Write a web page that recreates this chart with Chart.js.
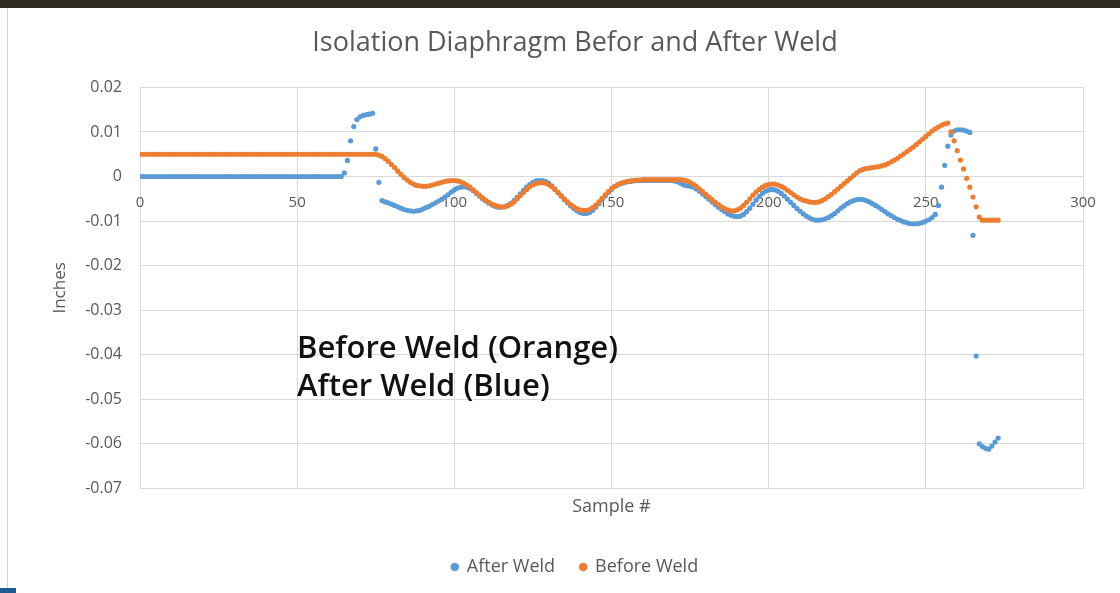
<!DOCTYPE html>
<html>
<head>
<meta charset="utf-8">
<script src="https://cdn.jsdelivr.net/npm/chart.js@4"></script>
<style>
  html, body { margin: 0; padding: 0; background: #fff; }
  body { width: 1120px; height: 593px; position: relative; overflow: hidden; }
  #topBand { position: absolute; left: 0; top: 0; width: 1120px; height: 8px; background: #2e2a24; }
  #leftLine { position: absolute; left: 7px; top: 8px; width: 1px; height: 580px; background: #d0d0d0; }
  #cornerBar { position: absolute; left: 0; top: 588px; width: 16px; height: 5px; background: #1f5b8f; }
  #wrap { position: absolute; left: 0; top: 0; width: 1120px; height: 593px; }
  #note { position: absolute; left: 297px; top: 327px; font-family: "Open Sans", sans-serif; font-weight: 600;
          font-size: 31px; line-height: 38px; color: #111; white-space: nowrap; }
</style>
</head>
<body>
<div id="topBand"></div>
<div id="leftLine"></div>
<div id="cornerBar"></div>
<div id="wrap"><canvas id="chart" width="1120" height="593"></canvas></div>
<div id="note">Before Weld (Orange)<br>After Weld (Blue)</div>
<script>
// values, one per sample (sample # = index)
const afterWeld = [
  0, 0, 0, 0, 0, 0, 0, 0, 0, 0,
  0, 0, 0, 0, 0, 0, 0, 0, 0, 0,
  0, 0, 0, 0, 0, 0, 0, 0, 0, 0,
  0, 0, 0, 0, 0, 0, 0, 0, 0, 0,
  0, 0, 0, 0, 0, 0, 0, 0, 0, 0,
  0, 0, 0, 0, 0, 0, 0, 0, 0, 0,
  0, 0, 0, 0, 0, 0.0008, 0.0036, 0.0080, 0.0112, 0.0128,
  0.0134, 0.0137, 0.0139, 0.0140, 0.0142, 0.0062, -0.0013, -0.0054, -0.0057, -0.0059,
  -0.0062, -0.0065, -0.0068, -0.0071, -0.0074, -0.0076, -0.0077, -0.0078, -0.0077, -0.0076,
  -0.0073, -0.0070, -0.0067, -0.0063, -0.0059, -0.0055, -0.0051, -0.0046, -0.0041, -0.0035,
  -0.0030, -0.0026, -0.0024, -0.0023, -0.0024, -0.0027, -0.0032, -0.0038, -0.0044, -0.0050,
  -0.0055, -0.0060, -0.0064, -0.0067, -0.0069, -0.0069, -0.0068, -0.0065, -0.0060, -0.0054,
  -0.0047, -0.0039, -0.0031, -0.0024, -0.0018, -0.0013, -0.0010, -0.0009, -0.0009, -0.0011,
  -0.0015, -0.0021, -0.0028, -0.0036, -0.0044, -0.0052, -0.0059, -0.0066, -0.0072, -0.0077,
  -0.0081, -0.0083, -0.0083, -0.0081, -0.0076, -0.0069, -0.0061, -0.0052, -0.0044, -0.0036,
  -0.0029, -0.0023, -0.0019, -0.0016, -0.0014, -0.0012, -0.0011, -0.0010, -0.0009, -0.0009,
  -0.0009, -0.0009, -0.0009, -0.0009, -0.0009, -0.0009, -0.0009, -0.0009, -0.0009, -0.0009,
  -0.0010, -0.0012, -0.0015, -0.0019, -0.0021, -0.0022, -0.0024, -0.0028, -0.0033, -0.0039,
  -0.0045, -0.0051, -0.0057, -0.0063, -0.0069, -0.0074, -0.0079, -0.0084, -0.0087, -0.0089,
  -0.0090, -0.0089, -0.0085, -0.0079, -0.0071, -0.0062, -0.0053, -0.0045, -0.0038, -0.0033,
  -0.0030, -0.0029, -0.0030, -0.0033, -0.0038, -0.0044, -0.0051, -0.0058, -0.0065, -0.0072,
  -0.0078, -0.0084, -0.0089, -0.0093, -0.0096, -0.0098, -0.0098, -0.0097, -0.0095, -0.0092,
  -0.0088, -0.0083, -0.0077, -0.0071, -0.0066, -0.0061, -0.0057, -0.0054, -0.0052, -0.0051,
  -0.0052, -0.0054, -0.0057, -0.0061, -0.0065, -0.0069, -0.0074, -0.0079, -0.0084, -0.0088,
  -0.0092, -0.0096, -0.0099, -0.0102, -0.0104, -0.0106, -0.0106, -0.0106, -0.0105, -0.0103,
  -0.0100, -0.0097, -0.0092, -0.0085, -0.0065, -0.0024, 0.0025, 0.0068, 0.0093, 0.0102,
  0.0105, 0.0105, 0.0104, 0.0102, 0.0099, -0.0132, -0.0403, -0.0600, -0.0606, -0.0610,
  -0.0612, -0.0605, -0.0596, -0.0587
];

const beforeWeld = [
  0.005, 0.005, 0.005, 0.005, 0.005, 0.005, 0.005, 0.005, 0.005, 0.005,
  0.005, 0.005, 0.005, 0.005, 0.005, 0.005, 0.005, 0.005, 0.005, 0.005,
  0.005, 0.005, 0.005, 0.005, 0.005, 0.005, 0.005, 0.005, 0.005, 0.005,
  0.005, 0.005, 0.005, 0.005, 0.005, 0.005, 0.005, 0.005, 0.005, 0.005,
  0.005, 0.005, 0.005, 0.005, 0.005, 0.005, 0.005, 0.005, 0.005, 0.005,
  0.005, 0.005, 0.005, 0.005, 0.005, 0.005, 0.005, 0.005, 0.005, 0.005,
  0.005, 0.005, 0.005, 0.005, 0.005, 0.005, 0.005, 0.005, 0.005, 0.005,
  0.005, 0.005, 0.005, 0.005, 0.005, 0.005, 0.0048, 0.0045, 0.0040, 0.0034,
  0.0027, 0.0020, 0.0012, 0.0005, -0.0002, -0.0008, -0.0013, -0.0017, -0.0020, -0.0021,
  -0.0022, -0.0022, -0.0021, -0.0019, -0.0017, -0.0015, -0.0013, -0.0011, -0.0010, -0.0009,
  -0.0009, -0.0010, -0.0012, -0.0015, -0.0019, -0.0024, -0.0030, -0.0036, -0.0042, -0.0048,
  -0.0053, -0.0058, -0.0062, -0.0065, -0.0067, -0.0068, -0.0068, -0.0066, -0.0062, -0.0057,
  -0.0050, -0.0043, -0.0036, -0.0029, -0.0023, -0.0019, -0.0016, -0.0014, -0.0014, -0.0015,
  -0.0018, -0.0023, -0.0029, -0.0036, -0.0043, -0.0050, -0.0057, -0.0063, -0.0068, -0.0072,
  -0.0075, -0.0076, -0.0076, -0.0074, -0.0070, -0.0064, -0.0057, -0.0049, -0.0041, -0.0034,
  -0.0027, -0.0022, -0.0018, -0.0015, -0.0013, -0.0011, -0.0010, -0.0009, -0.0008, -0.0008,
  -0.0007, -0.0007, -0.0007, -0.0007, -0.0007, -0.0007, -0.0007, -0.0007, -0.0007, -0.0007,
  -0.0007, -0.0007, -0.0007, -0.0008, -0.0010, -0.0013, -0.0017, -0.0022, -0.0028, -0.0034,
  -0.0040, -0.0046, -0.0052, -0.0058, -0.0063, -0.0068, -0.0072, -0.0075, -0.0077, -0.0077,
  -0.0075, -0.0071, -0.0065, -0.0058, -0.0050, -0.0042, -0.0035, -0.0029, -0.0024, -0.0020,
  -0.0018, -0.0017, -0.0017, -0.0019, -0.0022, -0.0026, -0.0031, -0.0036, -0.0041, -0.0046,
  -0.0050, -0.0053, -0.0055, -0.0057, -0.0058, -0.0058, -0.0057, -0.0054, -0.0050, -0.0045,
  -0.0040, -0.0034, -0.0028, -0.0022, -0.0016, -0.0010, -0.0004, 0.0002, 0.0008, 0.0013,
  0.0016, 0.0018, 0.0019, 0.0020, 0.0021, 0.0022, 0.0024, 0.0026, 0.0029, 0.0033,
  0.0037, 0.0041, 0.0046, 0.0051, 0.0056, 0.0061, 0.0066, 0.0072, 0.0078, 0.0084,
  0.0090, 0.0096, 0.0102, 0.0107, 0.0111, 0.0115, 0.0118, 0.0120, 0.0100, 0.0080,
  0.0058, 0.0037, 0.0017, -0.0004, -0.0024, -0.0046, -0.0068, -0.0091, -0.0098, -0.0098,
  -0.0098, -0.0098, -0.0098, -0.0098
];

const sampleNo = afterWeld.map((v, i) => i);

const xTicks = [0, 50, 100, 150, 200, 250, 300];
const yTicks = [0.02, 0.01, 0, -0.01, -0.02, -0.03, -0.04, -0.05, -0.06, -0.07];

const textColor = '#595959';
const gridColor = '#d9d9d9';
const font = '"Open Sans", sans-serif';

const toPoints = ys => ys.map((y, i) => ({ x: sampleNo[i], y: y }));

new Chart(document.getElementById('chart'), {
  type: 'scatter',
  data: {
    datasets: [{
      label: 'After Weld',
      data: toPoints(afterWeld),
      backgroundColor: '#5B9BD5',
      borderColor: '#5B9BD5',
      pointRadius: 2.6,
      pointBorderWidth: 0,
      order: 1
    }, {
      label: 'Before Weld',
      data: toPoints(beforeWeld),
      backgroundColor: '#ED7D31',
      borderColor: '#ED7D31',
      pointRadius: 2.6,
      pointBorderWidth: 0,
      order: 0
    }]
  },
  options: {
    responsive: false,
    animation: false,
    layout: { padding: { left: 67, right: 37, top: 12, bottom: 7 } },
    plugins: {
      title: {
        display: true,
        text: 'Isolation Diaphragm Befor and After Weld',
        color: textColor,
        font: { family: font, size: 27, weight: 'normal' },
        padding: { top: 15, bottom: 28 }
      },
      legend: {
        position: 'bottom',
        labels: {
          usePointStyle: true,
          pointStyle: 'circle',
          boxWidth: 6,
          boxHeight: 6,
          padding: 25,
          color: textColor,
          font: { family: font, size: 18 },
          sort: (a, b) => a.datasetIndex - b.datasetIndex
        }
      },
      tooltip: { enabled: false }
    },
    scales: {
      x: {
        type: 'linear',
        position: { y: 0 },
        min: 0,
        max: 300,
        afterBuildTicks: s => { s.ticks = xTicks.map(v => ({ value: v })); },
        ticks: { color: textColor, font: { family: font, size: 15 }, padding: 17 },
        grid: { color: gridColor, tickLength: 0 },
        border: { color: gridColor }
      },
      xTitle: {
        type: 'linear',
        axis: 'x',
        position: 'bottom',
        ticks: { display: false },
        grid: { display: false },
        border: { display: false },
        title: {
          display: true,
          text: 'Sample #',
          color: textColor,
          font: { family: font, size: 18 },
          padding: { top: 0, bottom: 15 }
        }
      },
      y: {
        min: -0.07,
        max: 0.02,
        afterBuildTicks: s => { s.ticks = yTicks.map(v => ({ value: v })); },
        afterFit: s => { s.width = 73; },
        ticks: {
          color: textColor,
          font: { family: font, size: 16 },
          padding: 18,
          callback: v => String(Math.round(v * 100) / 100)
        },
        grid: { color: gridColor, tickLength: 0 },
        border: { display: false },
        title: {
          display: true,
          text: 'Inches',
          color: textColor,
          font: { family: font, size: 17 },
          padding: { top: -17, bottom: 0 }
        }
      }
    }
  }
});
</script>
</body>
</html>
